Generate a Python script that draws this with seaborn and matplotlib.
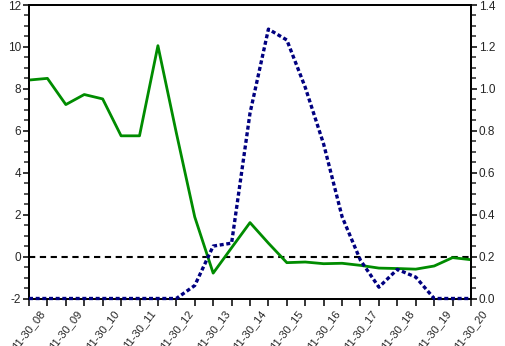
import matplotlib
matplotlib.use("Agg")
import matplotlib.pyplot as plt
from matplotlib.ticker import MultipleLocator, FormatStrFormatter
import seaborn as sns
import numpy as np
import pandas as pd

hours = ["11-30_08", "11-30_09", "11-30_10", "11-30_11", "11-30_12", "11-30_13",
         "11-30_14", "11-30_15", "11-30_16", "11-30_17", "11-30_18", "11-30_19", "11-30_20"]
steps = list(range(25))
green_vals = [8.42, 8.50, 7.25, 7.73, 7.52, 5.76, 5.76, 10.06, 5.90, 1.89, -0.79, 0.42,
              1.62, 0.64, -0.29, -0.26, -0.34, -0.32, -0.42, -0.55, -0.57, -0.60, -0.45,
              -0.05, -0.15]
blue_vals = [0.0, 0.0, 0.0, 0.0, 0.0, 0.0, 0.0, 0.0, 0.0, 0.062, 0.25, 0.264,
             0.884, 1.285, 1.233, 1.007, 0.736, 0.39, 0.182, 0.054, 0.139, 0.102, 0.0,
             0.0, 0.0]

df = pd.DataFrame({"step": steps, "green": green_vals, "blue": blue_vals})

sns.set_style("ticks")
plt.rcParams["font.family"] = ["Liberation Sans", "DejaVu Sans"]
plt.rcParams["axes.unicode_minus"] = False

fig = plt.figure(figsize=(5.05, 3.46), dpi=100)
ax = fig.add_axes([29/505, 1-298.5/346, (471-29)/505, (298.5-5)/346])
ax2 = ax.twinx()

ax.axhline(0, color="black", lw=1.5, ls=(0, (3, 2.2)), zorder=1)
sns.lineplot(data=df, x="step", y="green", ax=ax, color="#008c00", lw=2.0, zorder=3)
sns.lineplot(data=df, x="step", y="blue", ax=ax2, color="#000080", lw=2.4,
             linestyle=(0, (1.2, 0.8)), zorder=3, clip_on=False)

ax.set_xlim(0, 24)
ax.set_ylim(-2, 12)
ax2.set_ylim(0, 1.4)
ax.set_xlabel("")
ax.set_ylabel("")
ax2.set_ylabel("")

ax.set_xticks(steps)
labels = [hours[i // 2] if i % 2 == 0 else "" for i in steps]
ax.set_xticklabels(labels, rotation=52, ha="center", fontsize=8)

ax.yaxis.set_major_locator(MultipleLocator(2))
ax.yaxis.set_minor_locator(MultipleLocator(0.5))
ax2.yaxis.set_major_locator(MultipleLocator(0.2))
ax2.yaxis.set_minor_locator(MultipleLocator(0.05))
ax2.yaxis.set_major_formatter(FormatStrFormatter("%.1f"))

for a in (ax, ax2):
    for s in a.spines.values():
        s.set_visible(True)
        s.set_linewidth(1.3)
        s.set_color("black")

ax.tick_params(axis="x", direction="out", length=5, width=1.3, pad=2, labelsize=8)
ax.tick_params(axis="y", which="major", direction="out", length=4, width=1.3, pad=1.5, labelsize=8.5)
ax.tick_params(axis="y", which="minor", direction="out", length=3.5, width=1.1)
ax2.tick_params(axis="y", which="major", direction="out", length=4, width=1.3, pad=1.5, labelsize=8.5)
ax2.tick_params(axis="y", which="minor", direction="out", length=3.5, width=1.1)
ax.tick_params(top=False)
ax2.tick_params(top=False)

fig.savefig("out.png", dpi=100)
